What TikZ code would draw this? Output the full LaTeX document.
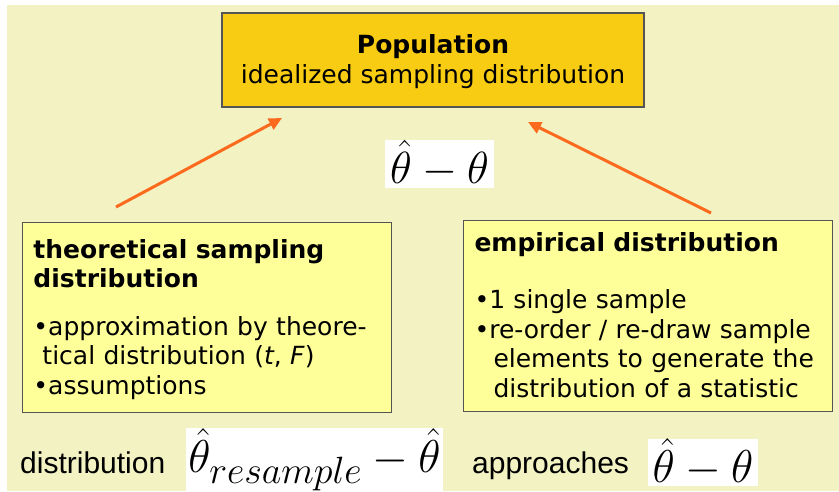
\documentclass[tikz,border=0pt]{standalone}
\usepackage{fix-cm}
\usepackage[no-math]{fontspec}
\setmainfont{DejaVu Sans}
\newfontfamily\arialfont{Liberation Sans}
\usetikzlibrary{arrows.meta}
\DeclareMathSizes{45}{45}{38}{30}
\DeclareMathSizes{46}{46}{38}{30}

\definecolor{bgyellow}{RGB}{242,242,194}
\definecolor{popgold}{RGB}{249,204,20}
\definecolor{paleyellow}{RGB}{255,255,153}
\definecolor{arroworange}{RGB}{252,106,30}
\definecolor{boxedge}{RGB}{85,85,85}

\tikzset{
	goldbox/.style={draw=boxedge, line width=1.2pt, fill=popgold, align=center, minimum width=422pt, minimum height=94pt, font=\fontsize{25}{30}\selectfont},
	notebox/.style={draw=boxedge, line width=1pt, fill=paleyellow, text width=347pt, inner xsep=11pt, align=left, font=\fontsize{25}{29.5}\selectfont},
	mathbox/.style={fill=white, inner sep=0pt},
	bottomlbl/.style={anchor=base west, inner sep=0pt, font=\arialfont\fontsize{30}{36}\selectfont},
	orangearrow/.style={draw=arroworange, line width=3pt, -{Triangle[length=13pt,width=12pt]}}
}

\begin{document}
\begin{tikzpicture}[x=1pt,y=-1pt]
		\useasboundingbox (0,0) rectangle (839,491);
		\fill[bgyellow] (7,5) rectangle (839,491);

		\node[goldbox] (pop) at (433,60) {\rule{0pt}{22pt}\textbf{Population}\\idealized sampling distribution};

		\node[notebox, anchor=north west, minimum height=190pt] (theo) at (22,222) {\textbf{theoretical sampling}\\\textbf{distribution}\\[18pt]
			\textbullet approximation by theore-\\
			\hspace*{9pt}tical distribution (\textit{t}, \textit{F})\\
			\textbullet assumptions\vspace*{-4pt}};

		\node[notebox, anchor=north west, minimum height=191pt] (emp) at (463,220) {\textbf{empirical distribution}\\[27.5pt]
			\textbullet 1 single sample\\
			\textbullet re-order / re-draw sample\\
			\hspace*{19pt}elements to generate the\\
			\hspace*{19pt}distribution of a statistic\vspace*{2pt}};

		\node[mathbox, minimum width=109pt, minimum height=48pt] (gap) at (439.5,164) {\fontsize{45}{50}\selectfont$\hat{\theta}-\theta$};

		\node[bottomlbl] (distlbl) at (20,473) {distribution};
		\node[mathbox, minimum width=257pt, minimum height=55pt] (resamp) at (314.5,459.5) {\fontsize{46}{50}\selectfont$\hat{\theta}_{resample}-\hat{\theta}$};
		\node[bottomlbl] (apprlbl) at (472,473) {approaches};
		\node[mathbox, minimum width=110pt, minimum height=45pt] (limit) at (703,462.5) {\fontsize{46}{50}\selectfont$\hat{\theta}-\theta$};

		\coordinate (theoOut) at (116,207);
		\coordinate (popInL) at (282,118);
		\coordinate (empOut) at (711,213);
		\coordinate (popInR) at (528,122);

		\draw[orangearrow] (theoOut) -- (popInL);
		\draw[orangearrow] (empOut) -- (popInR);
\end{tikzpicture}
\end{document}
